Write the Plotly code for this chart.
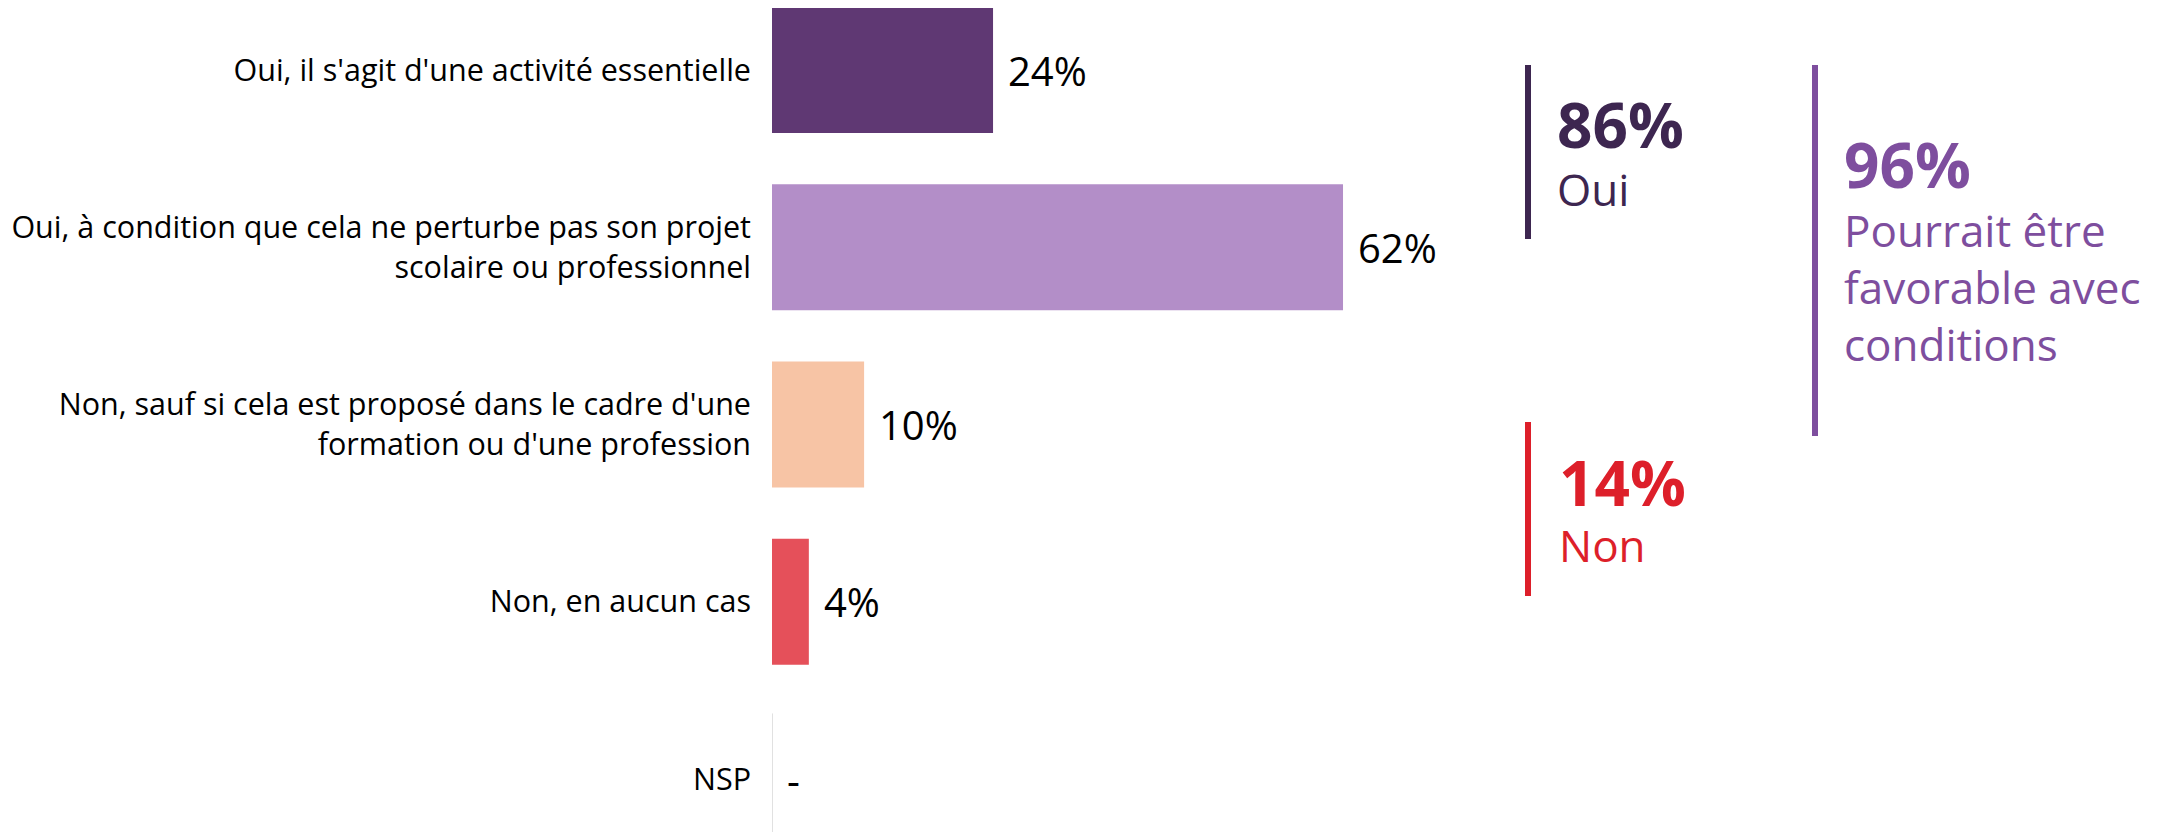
import plotly.graph_objects as go

categories = [
    "Oui, il s'agit d'une activité essentielle",
    "Oui, à condition que cela ne perturbe pas son projet<br>scolaire ou professionnel",
    "Non, sauf si cela est proposé dans le cadre d'une<br>formation ou d'une profession",
    "Non, en aucun cas",
    "NSP",
]
values = [24, 62, 10, 4, 0]
value_labels = ["24%", "62%", "10%", "4%", "-"]
bar_colors = ["#5f3873", "#b38ec8", "#f7c4a5", "#e5505a", "rgba(0,0,0,0)"]

summary_values = [86, 14, 96]
summary_labels = ["Oui", "Non", "Pourrait être<br>favorable avec<br>conditions"]
summary_colors = ["#3d2650", "#dd1f2a", "#7e4e9e"]

FONT = "Open Sans"
W, H = 2169, 832
PAGE_PAD = 8          # default body margin of the html page
LEFT, PLOT_W = 764, 921


def px(x):
    # screen pixel -> paper x
    return (x - PAGE_PAD - LEFT) / PLOT_W


def py(y):
    # screen pixel -> paper y
    return 1 - (y - PAGE_PAD) / H


fig = go.Figure()

fig.add_trace(go.Bar(
    x=values,
    y=categories,
    orientation="h",
    marker=dict(color=bar_colors, line=dict(width=0)),
    hoverinfo="skip",
    showlegend=False,
))

# value labels next to the bars
for cat, v, lab in zip(categories, values, value_labels):
    fig.add_annotation(
        x=v, y=cat, text=lab, showarrow=False,
        xanchor="left", yanchor="middle", xshift=13,
        font=dict(size=40, color="black", family=FONT),
    )

# thin grey baseline for the empty NSP row
fig.add_shape(
    type="line", xref="x", yref="y",
    x0=0, x1=0, y0=categories[-1], y1=categories[-1],
    y0shift=-0.37, y1shift=0.37,
    line=dict(color="#c3c3c3", width=1),
)

# summary blocks on the right
blocks = [
    # (line x, line y0, line y1, text x, value y, label y)  in screen pixels
    (1528, 65, 239, 1555, 124, 189),
    (1528, 422, 596, 1557, 482, 545),
    (1815, 65, 436, 1842, 164, 287),
]
for (lx, ly0, ly1, tx, vy, ty), v, lab, col in zip(blocks, summary_values, summary_labels, summary_colors):
    fig.add_shape(
        type="line", xref="paper", yref="paper",
        x0=px(lx), x1=px(lx), y0=py(ly0), y1=py(ly1),
        line=dict(color=col, width=6),
    )
    fig.add_annotation(
        x=px(tx), y=py(vy), xref="paper", yref="paper",
        text=f"<b>{v}%</b>", showarrow=False,
        xanchor="left", yanchor="middle",
        font=dict(size=62, color=col, family=FONT),
    )
    fig.add_annotation(
        x=px(tx), y=py(ty), xref="paper", yref="paper",
        text=lab, showarrow=False, align="left",
        xanchor="left", yanchor="middle",
        font=dict(size=44, color=col, family=FONT),
    )

fig.update_layout(
    width=W, height=H,
    paper_bgcolor="white",
    plot_bgcolor="white",
    font=dict(family=FONT, color="black"),
    margin=dict(l=LEFT, r=W - LEFT - PLOT_W, t=0, b=0, autoexpand=False),
    bargap=0.29,
    xaxis=dict(range=[0, 100], visible=False, fixedrange=True),
    yaxis=dict(
        range=[4.344, -0.350],
        showgrid=False, zeroline=False, showline=False,
        ticks="", ticklabelstandoff=20,
        tickfont=dict(size=30.5, color="black", family=FONT),
        fixedrange=True,
    ),
)

fig.write_html("out.html", config={"displayModeBar": False})
